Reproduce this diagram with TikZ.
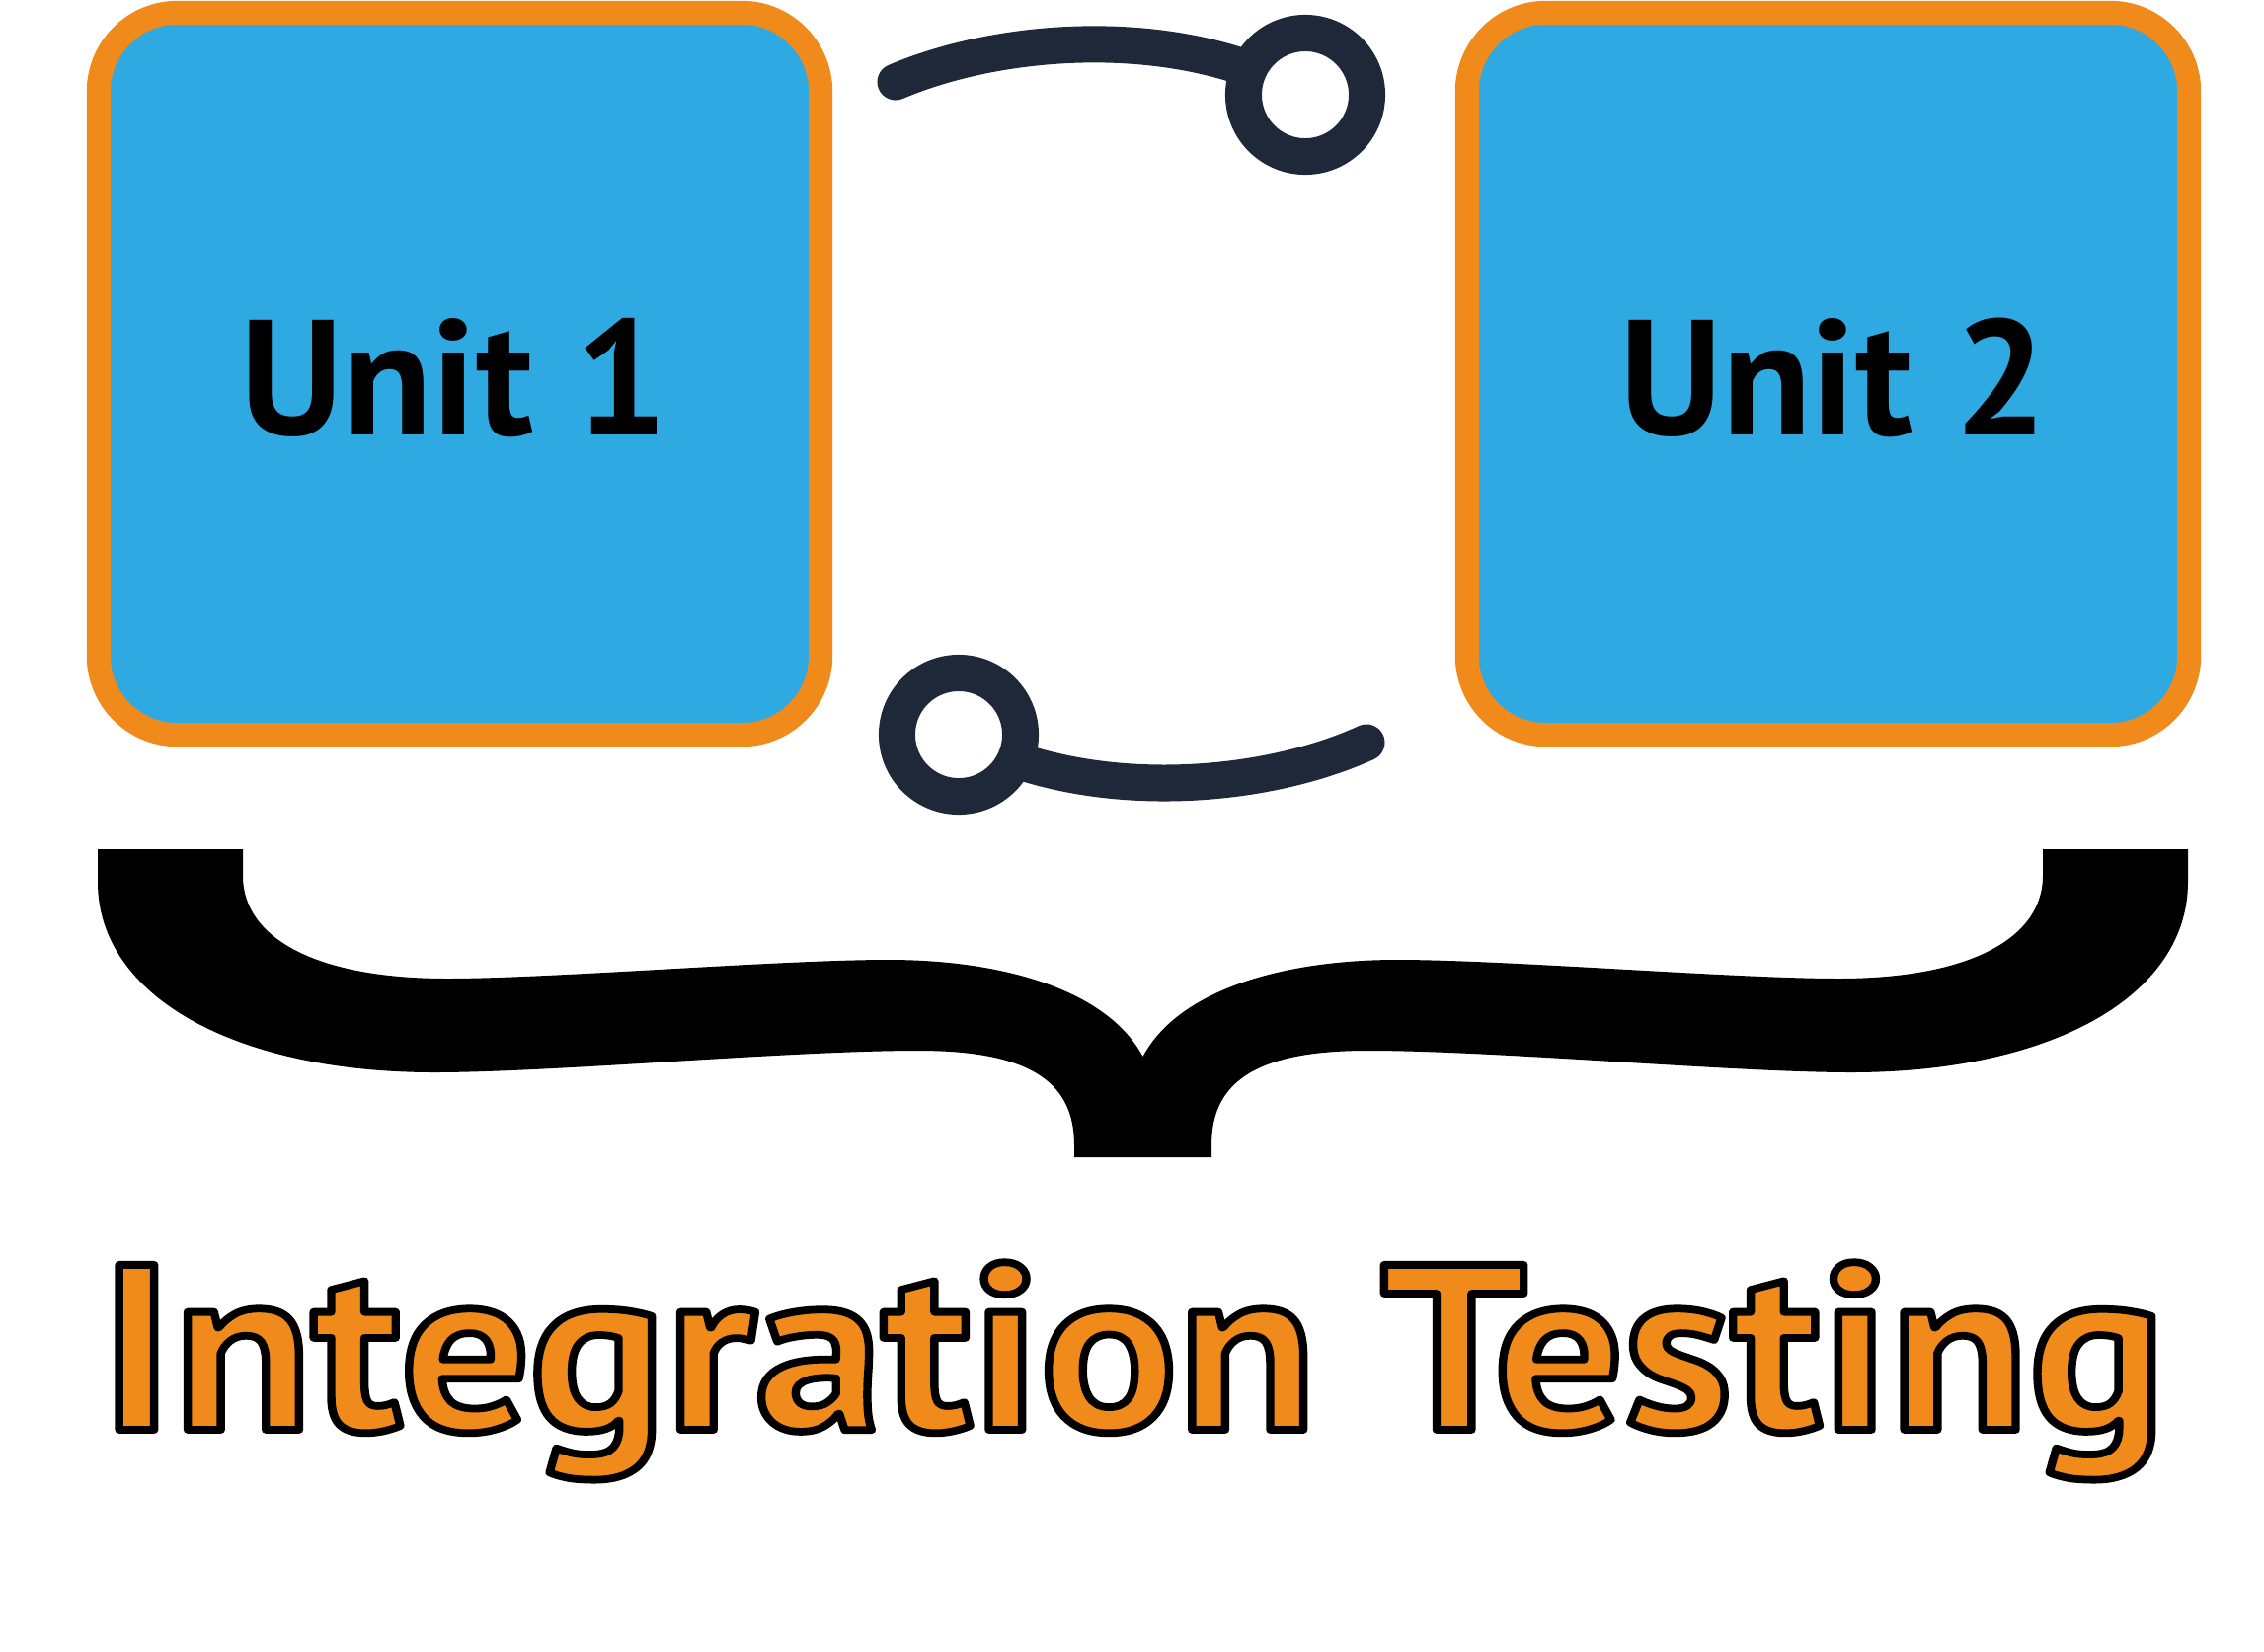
\documentclass[tikz,border=0pt]{standalone}
\usepackage{fontspec}
\setmainfont{PT Sans}
\definecolor{orng}{RGB}{240,138,26}
\definecolor{skyb}{RGB}{46,169,225}
\definecolor{navy}{RGB}{31,40,56}
\newcommand\strokedtext[1]{\special{pdf:literal direct 0 0 0 RG 2.2 w 1 j 2 Tr}#1\special{pdf:literal direct 0 Tr}}
\tikzset{
  unitbox/.style={draw=orng, fill=skyb, line width=0.24cm, rounded corners=0.8cm,
    minimum width=7.31cm, minimum height=7.31cm, inner sep=0pt},
  unitlabel/.style={font=\fontsize{47.2}{50}\selectfont\bfseries, text=black, inner sep=0pt},
  ring/.style={circle, draw=navy, fill=white, line width=0.37cm, minimum size=1.25cm, inner sep=0pt},
  wire/.style={draw=navy, line width=0.37cm, line cap=round},
  title/.style={font=\fontsize{67.9}{72}\selectfont\bfseries, text=orng, inner sep=0pt}
}
\begin{document}
\begin{tikzpicture}[x=0.01cm,y=-0.01cm]
\useasboundingbox (0,0) rectangle (2293,1672);
% unit boxes
\node[unitbox] (u1) at (465.5,378.5) {};
\node[unitbox] (u2) at (1851.5,378.5) {};
\node[unitlabel, anchor=base] (l1) at (460,440) {Unit 1};
\node[unitlabel, anchor=base] (l2) at (1857,440) {Unit 2};
% connectors
\coordinate (ea) at (907,83);
\coordinate (ca) at (1322,96);
\coordinate (eb) at (1384,752);
\coordinate (cb) at (971,744);
\draw[wire] (ea) .. controls (1020,35) and (1200,25) .. (ca);
\draw[wire] (eb) .. controls (1272,803) and (1092,813) .. (cb);
\node[ring] (ra) at (ca) {};
\node[ring] (rb) at (cb) {};
% brace
\fill[black] (1088,1172) -- (1088,1160)
  .. controls (1088,1100) and (1050,1064) .. (930,1064)
  .. controls (800,1064) and (560,1086) .. (440,1086)
  .. controls (240,1086) and (99,1010) .. (99,893)
  -- (99,860) -- (246,860) -- (246,887)
  .. controls (246,950) and (320,991) .. (453,991)
  .. controls (560,991) and (790,972) .. (900,972)
  .. controls (1010,972) and (1120,1000) .. (1157.5,1070)
  .. controls (1195,1000) and (1305,972) .. (1415,972)
  .. controls (1525,972) and (1755,991) .. (1862,991)
  .. controls (1995,991) and (2069,950) .. (2069,887)
  -- (2069,860) -- (2216,860) -- (2216,893)
  .. controls (2216,1010) and (2075,1086) .. (1875,1086)
  .. controls (1755,1086) and (1515,1064) .. (1385,1064)
  .. controls (1265,1064) and (1227,1100) .. (1227,1160)
  -- (1227,1172) -- cycle;
% title
\node[title, anchor=base] (t) at (1147.5,1448) {\scalebox{1.084}[1]{\strokedtext{Integration Testing}}};
\end{tikzpicture}
\end{document}
